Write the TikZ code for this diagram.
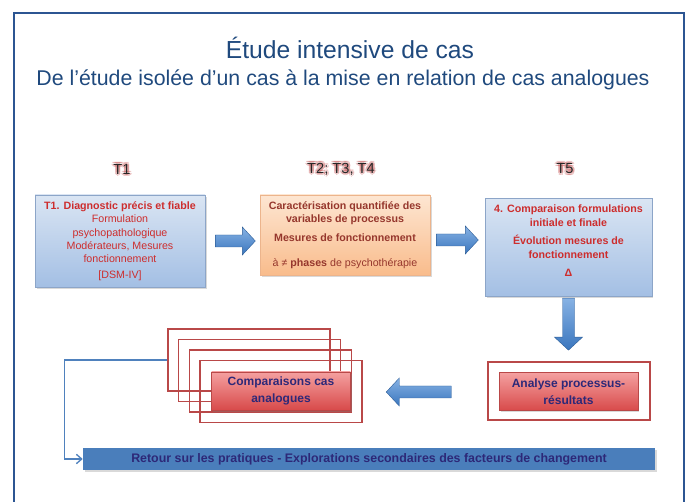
\documentclass[tikz,border=0pt]{standalone}
\usepackage{fontspec}
\setmainfont{Liberation Sans}
\usetikzlibrary{shadows,calc,arrows.meta}

\definecolor{frameblue}{RGB}{44,85,146}
\definecolor{titleblue}{RGB}{31,73,125}
\definecolor{boxredtext}{RGB}{205,45,45}
\definecolor{boxbrowntext}{RGB}{150,55,45}
\definecolor{navytext}{RGB}{45,40,120}
\definecolor{bluetop}{RGB}{218,229,243}
\definecolor{bluebot}{RGB}{163,191,228}
\definecolor{blueedge}{RGB}{140,165,200}
\definecolor{orangetop}{RGB}{253,230,210}
\definecolor{orangebot}{RGB}{249,188,140}
\definecolor{orangeedge}{RGB}{236,180,140}
\definecolor{redtop}{RGB}{244,160,160}
\definecolor{redbot}{RGB}{216,74,74}
\definecolor{rededge}{RGB}{185,72,72}
\definecolor{barblue}{RGB}{74,126,187}
\definecolor{arrowtop}{RGB}{135,178,228}
\definecolor{arrowbot}{RGB}{58,118,190}
\definecolor{linkblue}{RGB}{79,129,189}
\definecolor{glowred}{RGB}{200,95,95}

% block arrow: start point, angle, length
\newcommand{\blockarrow}[3]{%
  \draw[blockarr, shift={#1}, rotate=#2] (0,-6) -- (#3-13,-6) -- (#3-13,-14) -- (#3,0)
    -- (#3-13,14) -- (#3-13,6) -- (0,6) -- cycle;}

% time label with a soft red glow
\newcommand{\glowtext}[3]{%
  \foreach \ang in {0,45,...,315}
    \node[tglow] at ($#2+(\ang:2)$) {#3};
  \node[tlabel] (#1) at #2 {#3};}

\begin{document}
\begin{tikzpicture}[x=0.75pt,y=0.75pt,yscale=-1,xscale=1,
  tlabel/.style={font=\fontsize{11}{12}\selectfont, text=black!85},
  tglow/.style={font=\fontsize{11}{12}\selectfont, text=glowred, opacity=0.33},
  boxbase/.style={draw, line width=0.5pt, align=center, inner sep=2pt,
    font=\fontsize{8}{10}\selectfont,
    drop shadow={shadow xshift=1.2pt, shadow yshift=-1.2pt, opacity=0.3}},
  bluebox/.style={boxbase, draw=blueedge, top color=bluetop, bottom color=bluebot, text=boxredtext},
  orangebox/.style={boxbase, draw=orangeedge, top color=orangetop, bottom color=orangebot, text=boxbrowntext},
  redbox/.style={draw=rededge, line width=0.5pt, top color=redtop, bottom color=redbot, text=navytext,
    align=center, font=\bfseries\fontsize{9}{12.5}\selectfont,
    minimum width=104pt, minimum height=28.5pt,
    drop shadow={shadow xshift=1.2pt, shadow yshift=-1.2pt, opacity=0.3}},
  cmpframe/.style={draw=rededge, line width=1.1pt, minimum width=121.5pt},
  blockarr/.style={draw=arrowbot!80!black, line width=0.3pt, top color=arrowtop, bottom color=arrowbot},
  bar/.style={fill=barblue, text=navytext, font=\bfseries\fontsize{9.3}{10}\selectfont,
    minimum width=429pt, minimum height=16.5pt,
    drop shadow={shadow xshift=1.2pt, shadow yshift=-1.2pt, opacity=0.3}},
  link/.style={draw=linkblue, line width=1pt}]
\useasboundingbox (0,0) rectangle (687,502);

% outer frame
\draw[frameblue, line width=1.6pt] (14,502) -- (14,13) -- (684,13) -- (684,502);

% titles
\node[font=\fontsize{18.5}{20}\selectfont, text=titleblue] (title) at (350,48) {Étude intensive de cas};
\node[font=\fontsize{16}{18}\selectfont, text=titleblue] (subtitle) at (343,80)
  {De l’étude isolée d’un cas à la mise en relation de cas analogues};

% time labels
\glowtext{t1}{(122,169)}{T1}
\glowtext{t234}{(341,169)}{T2; T3, T4}
\glowtext{t5}{(565,169)}{T5}

% upper boxes
\node[bluebox, minimum width=127.5pt, minimum height=69pt] (diag) at (120,241)
  {\textbf{T1. Diagnostic précis et fiable}\\ Formulation\\ psychopathologique\\
   Modérateurs, Mesures\\ fonctionnement\\[1.5pt] {[DSM-IV]}};
\node[orangebox, minimum width=127.5pt, minimum height=60pt] (carac) at (345,235)
  {\textbf{Caractérisation quantifiée des}\\ \textbf{variables de processus}\\[4pt]
   \textbf{Mesures de fonctionnement}\\[9pt] à ≠ \textbf{phases} de psychothérapie};
\node[bluebox, minimum width=125pt, minimum height=74pt] (compar) at (568.5,247.5)
  {\textbf{4. Comparaison formulations}\\ \textbf{initiale et finale}\\[4pt]
   \textbf{Évolution mesures de}\\ \textbf{fonctionnement}\\[4pt] \textbf{Δ}\\ ~};

% block arrows
\blockarrow{($(diag.east)+(10,0)$)}{0}{40}
\blockarrow{($(carac.east)+(6,5)$)}{0}{42}
\blockarrow{($(compar.south)+(0,1)$)}{90}{52}

% lower boxes
\foreach \k in {0,...,3}
  \node[cmpframe, minimum height=46.5pt] (frame\k) at (249+10.7*\k,360+10.5*\k) {};
\node[redbox] (cmp) at (281,391) {Comparaisons cas\\analogues};

\node[cmpframe, minimum height=43.5pt] (anaframe) at (569,391) {};
\node[redbox] (ana) at (568.5,391.5) {Analyse processus-\\résultats};

\blockarrow{($(anaframe.west)+(-36,1)$)}{180}{65}

% bottom bar
\node[bar] (retour) at (369,459)
  {Retour sur les pratiques - Explorations secondaires des facteurs de changement};
\draw[link, -{Straight Barb[length=4pt,width=7pt]}] (frame0.west) -- ++(-103,0) |- (retour.west);

\end{tikzpicture}
\end{document}
